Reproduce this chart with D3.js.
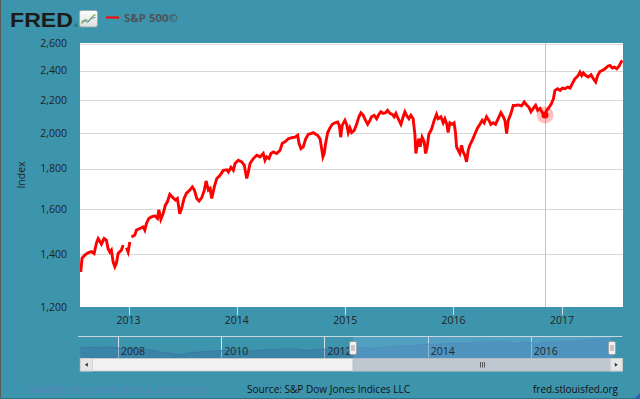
<!DOCTYPE html>
<html>
<head>
<meta charset="utf-8">
<script src="https://cdn.jsdelivr.net/npm/d3@7"></script>
<style>
  html, body { margin: 0; padding: 0; background: #3d95ad; }
  svg { display: block; font-family: "Open Sans", sans-serif; }
</style>
</head>
<body>
<div id="viz"></div>
<script>
// --- data (decimal years, index values) ---
const seriesName = 'S&P 500©';
const yTicks = [1200, 1400, 1600, 1800, 2000, 2200, 2400, 2600];
const xTickYears = [2013, 2014, 2015, 2016, 2017];
const navTickYears = [2008, 2010, 2012, 2014, 2016];
const viewStart = 2012.553;
const viewEnd = 2017.563;
const navStart = 2007.27;
const navEnd = 2017.77;
const hoverDate = 2016.843;

const dates = [
  2012.560, 2012.572, 2012.597, 2012.627, 2012.658, 2012.683, 2012.704, 2012.720, 2012.735, 2012.750,
  2012.775, 2012.796, 2012.812, 2012.828, 2012.842, 2012.858, 2012.874, 2012.888, 2012.904, 2012.934,
  2012.950, 2012.965, 2012.981, 2012.996, 2013.012, 2013.020, 2013.027, 2013.058, 2013.073, 2013.104,
  2013.135, 2013.150, 2013.165, 2013.187, 2013.211, 2013.243, 2013.267, 2013.280, 2013.298, 2013.319,
  2013.340, 2013.359, 2013.381, 2013.411, 2013.433, 2013.451, 2013.473, 2013.494, 2013.513, 2013.534,
  2013.566, 2013.589, 2013.608, 2013.630, 2013.651, 2013.676, 2013.700, 2013.716, 2013.737, 2013.753,
  2013.768, 2013.792, 2013.815, 2013.845, 2013.875, 2013.907, 2013.922, 2013.946, 2013.968, 2013.983,
  2014.014, 2014.045, 2014.069, 2014.091, 2014.106, 2014.122, 2014.152, 2014.184, 2014.214, 2014.244,
  2014.260, 2014.276, 2014.297, 2014.315, 2014.337, 2014.368, 2014.399, 2014.420, 2014.445, 2014.475,
  2014.506, 2014.537, 2014.562, 2014.574, 2014.592, 2014.613, 2014.636, 2014.660, 2014.685, 2014.706,
  2014.728, 2014.746, 2014.768, 2014.783, 2014.795, 2014.807, 2014.820, 2014.839, 2014.860, 2014.881,
  2014.906, 2014.931, 2014.946, 2014.959, 2014.973, 2014.998, 2015.014, 2015.029, 2015.044, 2015.060,
  2015.084, 2015.106, 2015.127, 2015.146, 2015.167, 2015.189, 2015.208, 2015.229, 2015.244, 2015.268,
  2015.291, 2015.312, 2015.330, 2015.351, 2015.374, 2015.392, 2015.413, 2015.435, 2015.453, 2015.469,
  2015.490, 2015.515, 2015.536, 2015.552, 2015.567, 2015.589, 2015.607, 2015.628, 2015.644, 2015.653,
  2015.669, 2015.681, 2015.693, 2015.711, 2015.730, 2015.743, 2015.755, 2015.773, 2015.798, 2015.822,
  2015.844, 2015.859, 2015.884, 2015.905, 2015.921, 2015.939, 2015.951, 2015.967, 2015.988, 2016.006,
  2016.019, 2016.029, 2016.043, 2016.059, 2016.075, 2016.089, 2016.105, 2016.121, 2016.136, 2016.151,
  2016.173, 2016.197, 2016.222, 2016.244, 2016.265, 2016.283, 2016.305, 2016.327, 2016.345, 2016.366,
  2016.388, 2016.412, 2016.437, 2016.459, 2016.474, 2016.490, 2016.505, 2016.530, 2016.551, 2016.566,
  2016.597, 2016.628, 2016.652, 2016.674, 2016.696, 2016.714, 2016.735, 2016.757, 2016.776, 2016.797,
  2016.813, 2016.827, 2016.843, 2016.859, 2016.874, 2016.899, 2016.920, 2016.935, 2016.960, 2016.982,
  2017.003, 2017.028, 2017.053, 2017.074, 2017.095, 2017.120, 2017.136, 2017.150, 2017.166, 2017.182,
  2017.197, 2017.219, 2017.243, 2017.268, 2017.289, 2017.311, 2017.329, 2017.351, 2017.372, 2017.397,
  2017.422, 2017.443, 2017.464, 2017.483, 2017.505, 2017.526, 2017.544, 2017.556
];

const values = [
  1330, 1385, 1397, 1407, 1412, 1404, 1447, 1467, 1455, 1443,
  1467, 1460, 1424, 1410, 1418, 1370, 1350, 1364, 1404, 1418,
  1439, null, 1428, 1410, 1452, null, 1474, 1482, 1504, 1511,
  1518, 1504, 1533, 1556, 1563, 1568, 1556, 1596, 1552, 1578,
  1618, 1634, 1670, 1653, 1642, 1650, 1578, 1610, 1650, 1675,
  1691, 1707, 1691, 1650, 1638, 1654, 1691, 1737, 1691, 1699,
  1650, 1707, 1750, 1766, 1792, 1795, 1783, 1808, 1792, 1828,
  1846, 1837, 1819, 1750, 1783, 1828, 1855, 1873, 1864, 1883,
  1846, 1864, 1855, 1883, 1892, 1883, 1901, 1940, 1948, 1966,
  1972, 1975, 1986, 1940, 1910, 1920, 1966, 1992, 1996, 2002,
  1992, 1986, 1966, 1910, 1864, 1883, 1940, 2002, 2030, 2051,
  2060, 2065, 2045, 1975, 2045, 2075, 2051, 2002, 2030, 2002,
  2015, 2051, 2097, 2122, 2106, 2075, 2051, 2075, 2097, 2106,
  2085, 2112, 2128, 2118, 2122, 2137, 2118, 2112, 2097, 2118,
  2085, 2051, 2097, 2128, 2106, 2085, 2106, 2085, 1992, 1883,
  1940, 1966, 1920, 1975, 1948, 1883, 1910, 1992, 2022, 2075,
  2112, 2085, 2097, 2060, 2085, 2051, 2002, 2060, 2051, 2060,
  2002, 1920, 1901, 1883, 1929, 1892, 1873, 1837, 1901, 1929,
  1957, 1992, 2030, 2051, 2075, 2060, 2097, 2075, 2051, 2060,
  2051, 2085, 2122, 2097, 2075, 1996, 2075, 2118, 2168, 2168,
  2171, 2165, 2190, 2171, 2156, 2128, 2149, 2168, 2137, 2149,
  2128, 2118, 2108, 2137, 2149, 2175, 2209, 2266, 2277, 2266,
  2281, 2277, 2288, 2281, 2311, 2345, 2356, 2367, 2390, 2367,
  2385, 2367, 2356, 2372, 2345, 2322, 2367, 2395, 2402, 2414,
  2432, 2438, 2420, 2426, 2414, 2432, 2460, 2474
];

// navigator history before the visible window
const navEarlyDates = [
  2007.27, 2007.45, 2007.60, 2007.78, 2007.95, 2008.10, 2008.30, 2008.45, 2008.60, 2008.75,
  2008.85, 2009.00, 2009.18, 2009.35, 2009.55, 2009.75, 2009.95, 2010.25, 2010.45, 2010.60,
  2010.80, 2011.00, 2011.30, 2011.50, 2011.65, 2011.80, 2012.00, 2012.25, 2012.40, 2012.50
];
const navEarlyValues = [
  1450, 1530, 1460, 1540, 1470, 1330, 1390, 1280, 1260, 1100,
  900, 880, 700, 880, 980, 1060, 1120, 1180, 1070, 1120,
  1190, 1270, 1330, 1320, 1150, 1230, 1300, 1400, 1330, 1370
];

const toDate = function (y) {
  const yr = Math.floor(y);
  const s = new Date(yr, 0, 1);
  const e = new Date(yr + 1, 0, 1);
  return new Date(+s + (y - yr) * (e - s));
};

const width = 640;
const height = 399;
const plot = { left: 80, right: 623, top: 43, bottom: 307 };
const nav = { left: 80.3, right: 622.3, top: 337, bottom: 358.3 };

const series = dates.map((d, i) => ({ date: toDate(d), value: values[i] }));
const navSeries = navEarlyDates
  .map((d, i) => ({ date: toDate(d), value: navEarlyValues[i] }))
  .concat(series.filter(d => d.value != null));

const x = d3.scaleTime()
  .domain([toDate(viewStart), toDate(viewEnd)])
  .range([plot.left, plot.right]);

const y = d3.scaleLog()
  .domain([1200, 2600])
  .range([plot.bottom, 43.5]);

const nx = d3.scaleTime()
  .domain([toDate(navStart), toDate(navEnd)])
  .range([nav.left, nav.right]);

const ny = d3.scaleLinear()
  .domain([300, 2600])
  .range([nav.bottom, nav.top + 0.3]);

const svg = d3.select('#viz')
  .append('svg')
  .attr('width', width)
  .attr('height', height);

svg.append('rect')
  .attr('width', width)
  .attr('height', height)
  .attr('fill', '#3d95ad');

// frame edges
svg.append('line').attr('x1', 0.5).attr('x2', 0.5).attr('y1', 0).attr('y2', height)
  .attr('stroke', '#5a5a5a');
svg.append('line').attr('x1', 0).attr('x2', width).attr('y1', 398.5).attr('y2', 398.5)
  .attr('stroke', '#2d7288');

// header
svg.append('text')
  .attr('x', 10).attr('y', 27)
  .attr('font-family', '"Liberation Sans", Arial, sans-serif')
  .attr('font-weight', 900)
  .attr('font-size', 21)
  .attr('textLength', 63)
  .attr('lengthAdjust', 'spacingAndGlyphs')
  .attr('fill', '#1c1a1a')
  .text('FRED');
svg.append('text')
  .attr('x', 74.5).attr('y', 27)
  .attr('font-size', 4)
  .attr('fill', '#1c1a1a')
  .text('®');

const icon = svg.append('g').attr('transform', 'translate(79.5,10.5)');
const grad = svg.append('defs').append('linearGradient')
  .attr('id', 'iconGrad').attr('x1', 0).attr('x2', 0).attr('y1', 0).attr('y2', 1);
grad.append('stop').attr('offset', '0%').attr('stop-color', '#ffffff');
grad.append('stop').attr('offset', '100%').attr('stop-color', '#dcdcdc');
icon.append('rect')
  .attr('width', 18).attr('height', 16.5).attr('rx', 2)
  .attr('fill', 'url(#iconGrad)').attr('stroke', '#9aa4a8').attr('stroke-width', 0.8);
icon.append('polyline')
  .attr('points', '2,13 6,9 9,11 13,6 16,4')
  .attr('fill', 'none').attr('stroke', '#7bb24a').attr('stroke-width', 1.3);
icon.append('polyline')
  .attr('points', '2,11 5,10 8,12 12,8 16,7')
  .attr('fill', 'none').attr('stroke', '#5c8fc5').attr('stroke-width', 1);

svg.append('line')
  .attr('x1', 106).attr('x2', 119).attr('y1', 17.5).attr('y2', 17.5)
  .attr('stroke', '#ff0000').attr('stroke-width', 2);
svg.append('text')
  .attr('x', 124).attr('y', 21.5)
  .attr('font-size', 11)
  .attr('font-weight', 700)
  .attr('textLength', 54)
  .attr('lengthAdjust', 'spacingAndGlyphs')
  .attr('fill', '#4d5356')
  .text(seriesName);

// plot area
svg.append('rect')
  .attr('x', plot.left).attr('y', plot.top)
  .attr('width', plot.right - plot.left).attr('height', plot.bottom - plot.top)
  .attr('fill', '#ffffff');

svg.append('g')
  .selectAll('line')
  .data(yTicks.slice(1))
  .enter()
  .append('line')
  .attr('x1', plot.left).attr('x2', plot.right)
  .attr('y1', d => Math.round(y(d)) + 0.5)
  .attr('y2', d => Math.round(y(d)) + 0.5)
  .attr('stroke', '#d8d8d8');

svg.append('g')
  .selectAll('text')
  .data(yTicks)
  .enter()
  .append('text')
  .attr('x', 67)
  .attr('y', d => y(d))
  .attr('dy', '0.35em')
  .attr('text-anchor', 'end')
  .attr('font-size', 10.5)
  .attr('fill', '#222')
  .text(d => d3.format(',')(d));

svg.append('text')
  .attr('transform', 'translate(25,175) rotate(-90)')
  .attr('text-anchor', 'middle')
  .attr('font-size', 10.5)
  .attr('fill', '#222')
  .text('Index');

// x axis
const xTicks = xTickYears.map(d => new Date(d, 0, 1));
svg.append('g')
  .selectAll('line')
  .data(xTicks)
  .enter()
  .append('line')
  .attr('x1', d => Math.round(x(d)) + 0.5)
  .attr('x2', d => Math.round(x(d)) + 0.5)
  .attr('y1', plot.bottom).attr('y2', plot.bottom + 8)
  .attr('stroke', '#d5dbe4');

svg.append('g')
  .selectAll('text')
  .data(xTicks)
  .enter()
  .append('text')
  .attr('x', d => x(d))
  .attr('y', 324)
  .attr('text-anchor', 'middle')
  .attr('font-size', 10.5)
  .attr('fill', '#222')
  .text(d => d.getFullYear());

// crosshair
const hx = x(toDate(hoverDate));
svg.append('line')
  .attr('x1', Math.round(hx) + 0.5).attr('x2', Math.round(hx) + 0.5)
  .attr('y1', plot.top).attr('y2', plot.bottom)
  .attr('stroke', '#c4c4c4');

// series line
svg.append('clipPath').attr('id', 'plotClip')
  .append('rect')
  .attr('x', plot.left).attr('y', plot.top)
  .attr('width', plot.right - plot.left).attr('height', plot.bottom - plot.top);

const line = d3.line()
  .defined(d => d.value != null)
  .x(d => x(d.date))
  .y(d => y(d.value));

svg.append('path')
  .datum(series)
  .attr('clip-path', 'url(#plotClip)')
  .attr('d', line)
  .attr('fill', 'none')
  .attr('stroke', '#ff0000')
  .attr('stroke-width', 2.9)
  .attr('stroke-linejoin', 'miter');

const hoverPoint = series.find(d => Math.abs(d.date - toDate(hoverDate)) < 86400000);
svg.append('circle')
  .attr('cx', x(hoverPoint.date)).attr('cy', y(hoverPoint.value))
  .attr('r', 8.5)
  .attr('fill', 'rgba(255,0,0,0.25)');
svg.append('circle')
  .attr('cx', x(hoverPoint.date)).attr('cy', y(hoverPoint.value))
  .attr('r', 3.5)
  .attr('fill', '#ff0000');

// navigator
const selLeft = nx(toDate(viewStart));
const selRight = nx(toDate(viewEnd));

svg.append('g')
  .selectAll('line')
  .data(navTickYears)
  .enter()
  .append('line')
  .attr('x1', d => Math.round(nx(new Date(d, 0, 1))) + 0.5)
  .attr('x2', d => Math.round(nx(new Date(d, 0, 1))) + 0.5)
  .attr('y1', nav.top).attr('y2', nav.bottom)
  .attr('stroke', '#d9e4ea');

const navArea = d3.area()
  .x(d => nx(d.date))
  .y0(nav.bottom)
  .y1(d => ny(d.value));

svg.append('path')
  .datum(navSeries)
  .attr('d', navArea)
  .attr('fill', 'rgba(55,105,160,0.38)');
svg.append('path')
  .datum(navSeries)
  .attr('d', d3.line().x(d => nx(d.date)).y(d => ny(d.value)))
  .attr('fill', 'none')
  .attr('stroke', '#3a7aa5')
  .attr('stroke-width', 1);

svg.append('rect')
  .attr('x', selLeft).attr('y', nav.top)
  .attr('width', selRight - selLeft).attr('height', nav.bottom - nav.top)
  .attr('fill', 'rgba(125,185,235,0.32)');

svg.append('line')
  .attr('x1', 78).attr('x2', nav.right).attr('y1', nav.top - 0.5).attr('y2', nav.top - 0.5)
  .attr('stroke', '#c9d6de');

svg.append('g')
  .selectAll('text')
  .data(navTickYears)
  .enter()
  .append('text')
  .attr('x', d => nx(new Date(d, 0, 1)) + 3)
  .attr('y', 355)
  .attr('font-size', 10.5)
  .attr('fill', '#1e2a30')
  .text(d => d);

// navigator handles
[selLeft, selRight].forEach(hxp => {
  const g = svg.append('g').attr('transform', `translate(${Math.round(hxp) - 3.5},341.5)`);
  g.append('rect')
    .attr('width', 7).attr('height', 13).attr('rx', 1.5)
    .attr('fill', '#f2f2f2').attr('stroke', '#999').attr('stroke-width', 0.8);
  g.append('line').attr('x1', 2.5).attr('x2', 2.5).attr('y1', 3.5).attr('y2', 9.5).attr('stroke', '#999');
  g.append('line').attr('x1', 4.5).attr('x2', 4.5).attr('y1', 3.5).attr('y2', 9.5).attr('stroke', '#999');
});

// scrollbar
const sb = { top: 358.5, bottom: 371 };
svg.append('rect')
  .attr('x', nav.left).attr('y', sb.top)
  .attr('width', nav.right - nav.left).attr('height', sb.bottom - sb.top)
  .attr('fill', '#f2f2f2').attr('stroke', '#cccccc').attr('stroke-width', 0.8);
svg.append('rect')
  .attr('x', selLeft).attr('y', sb.top)
  .attr('width', selRight - selLeft - 1).attr('height', sb.bottom - sb.top)
  .attr('fill', '#bfc7d0').attr('stroke', '#b0b8c2').attr('stroke-width', 0.8);
[nav.left, nav.right - 12].forEach((bx, i) => {
  svg.append('rect')
    .attr('x', bx).attr('y', sb.top)
    .attr('width', 12).attr('height', sb.bottom - sb.top)
    .attr('fill', '#e6e6e6').attr('stroke', '#cccccc').attr('stroke-width', 0.8);
  const cx = bx + 6;
  const cy = (sb.top + sb.bottom) / 2;
  svg.append('path')
    .attr('d', i === 0
      ? `M${cx + 1.5},${cy - 2} L${cx - 1.5},${cy} L${cx + 1.5},${cy + 2} Z`
      : `M${cx - 1.5},${cy - 2} L${cx + 1.5},${cy} L${cx - 1.5},${cy + 2} Z`)
    .attr('fill', '#333');
});
const gripX = (selLeft + selRight) / 2;
[-2, 0, 2].forEach(o => {
  svg.append('line')
    .attr('x1', Math.round(gripX + o) + 0.5).attr('x2', Math.round(gripX + o) + 0.5)
    .attr('y1', 362).attr('y2', 367.5)
    .attr('stroke', '#555');
});

// footer
svg.append('text')
  .attr('x', 28).attr('y', 393)
  .attr('font-size', 10)
  .attr('font-style', 'italic')
  .attr('textLength', 178)
  .attr('lengthAdjust', 'spacingAndGlyphs')
  .attr('fill', '#5a86bd')
  .text('Shaded areas indicate U.S. recessions');
svg.append('text')
  .attr('x', 247).attr('y', 393)
  .attr('font-size', 11)
  .attr('textLength', 163)
  .attr('lengthAdjust', 'spacingAndGlyphs')
  .attr('fill', '#111')
  .text('Source: S&P Dow Jones Indices LLC');
svg.append('text')
  .attr('x', 533).attr('y', 393)
  .attr('font-size', 11)
  .attr('textLength', 85)
  .attr('lengthAdjust', 'spacingAndGlyphs')
  .attr('fill', '#111')
  .text('fred.stlouisfed.org');

svg.append('path')
  .attr('d', 'M640,393 L640,399 L634,399 Z')
  .attr('fill', '#2f5fb0');
</script>
</body>
</html>
